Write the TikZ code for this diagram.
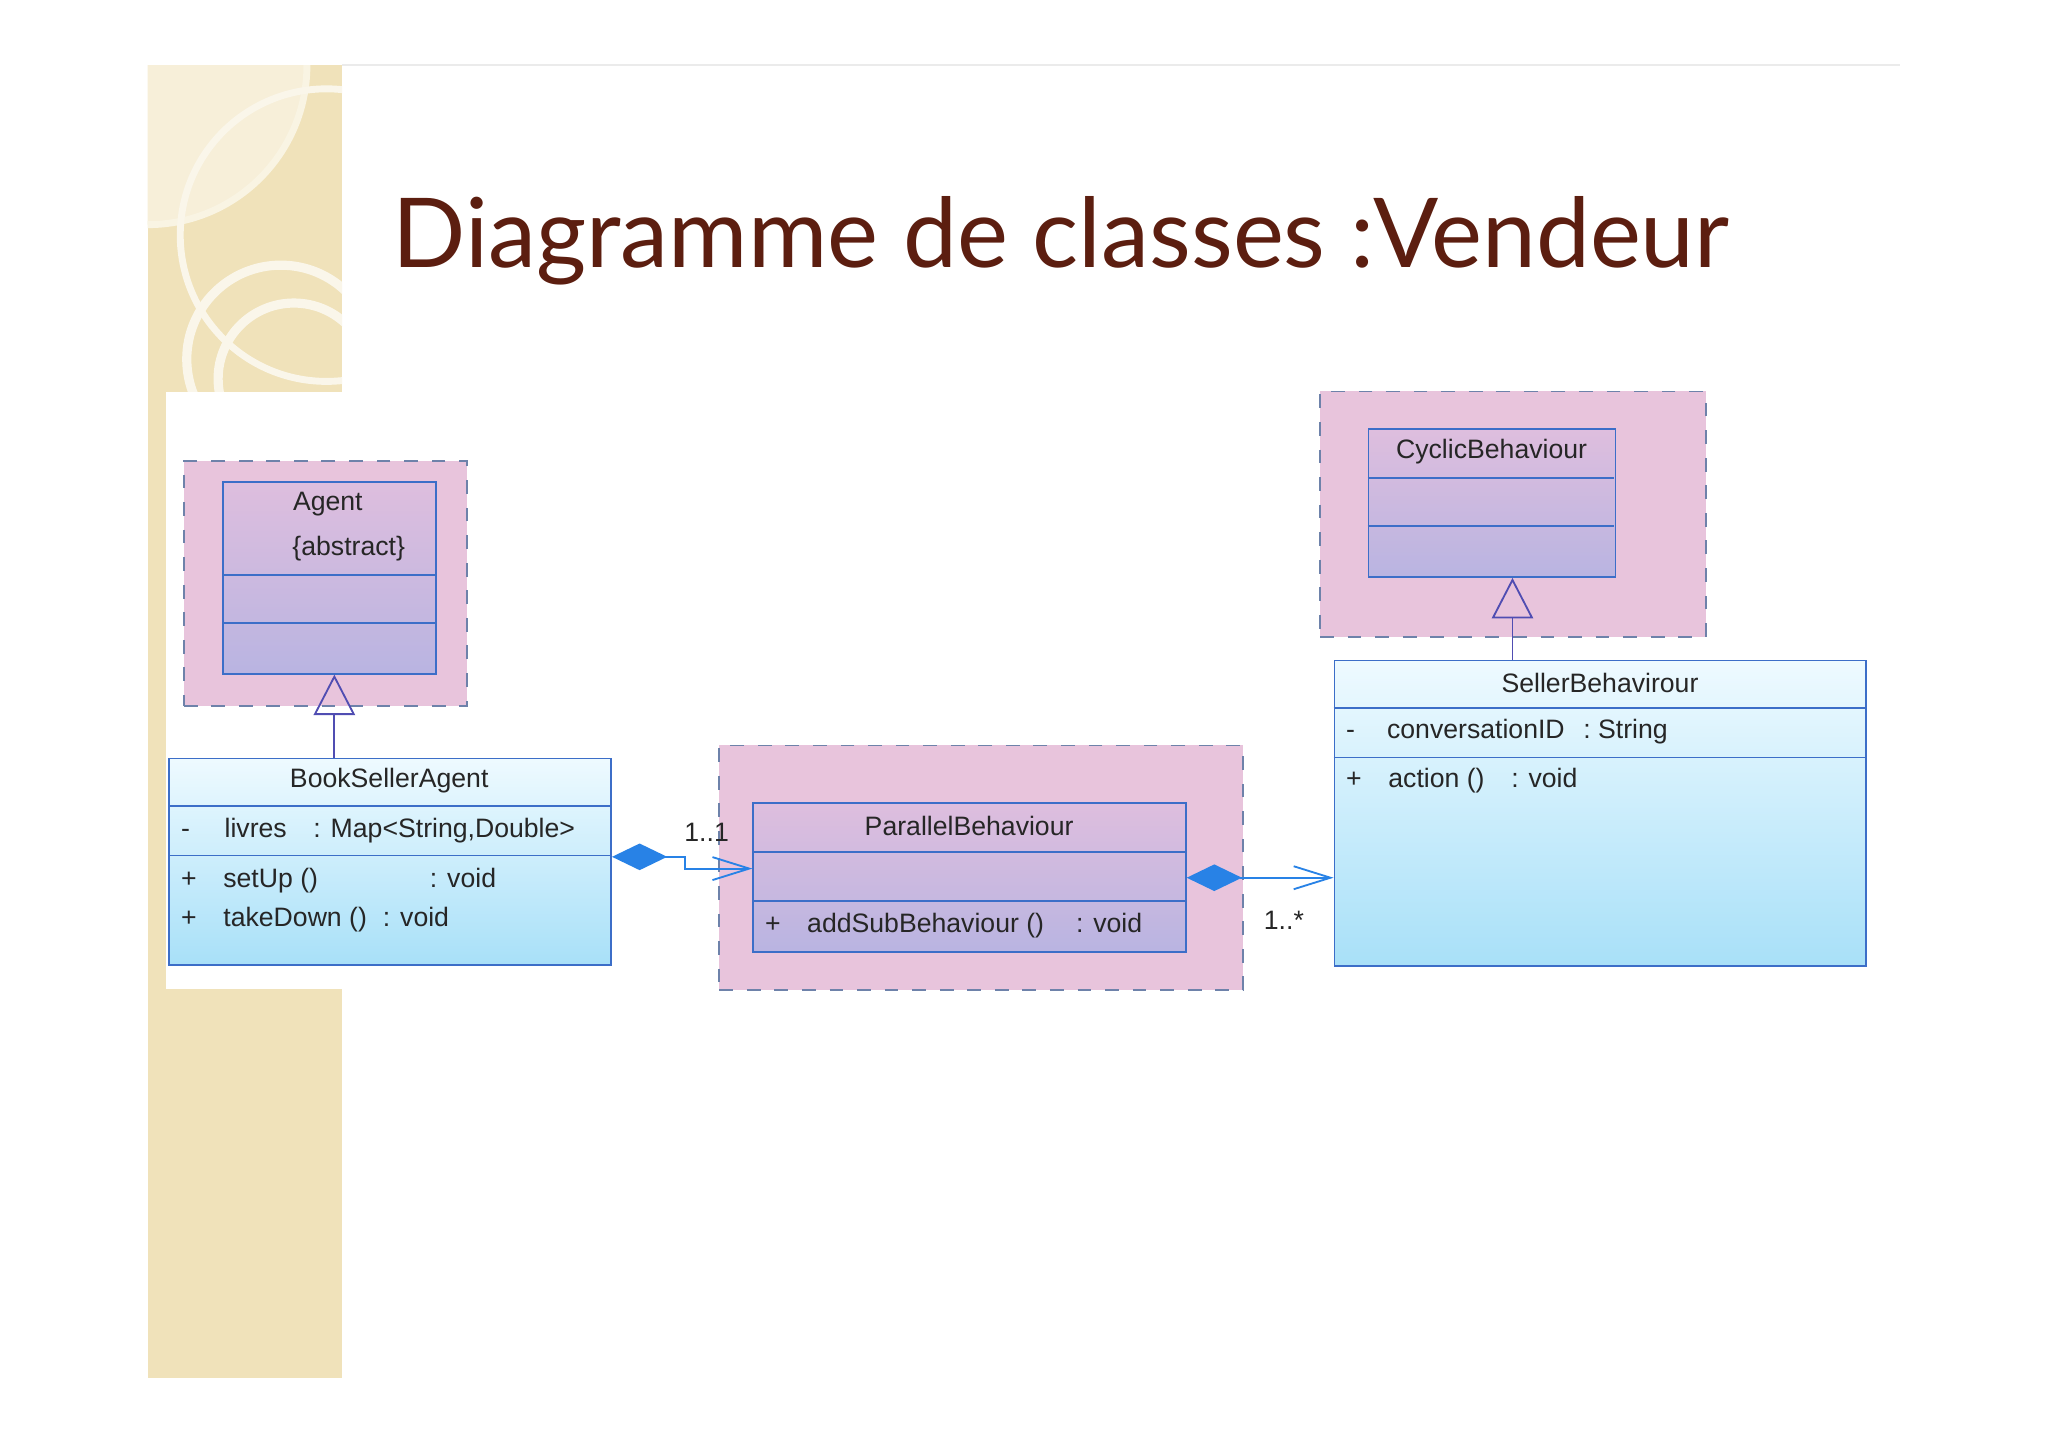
\documentclass[tikz,border=0pt]{standalone}
\usepackage{fontspec}
\setmainfont{Liberation Sans}
\newfontfamily\titlefont{Lato}
\usetikzlibrary{arrows.meta,calc}
\definecolor{titlec}{RGB}{92,30,16}
\definecolor{strip}{RGB}{240,226,186}
\definecolor{pinkc}{RGB}{232,196,220}
\definecolor{borderc}{RGB}{60,110,200}
\definecolor{ctop}{RGB}{238,250,255}
\definecolor{cbot}{RGB}{168,224,248}
\definecolor{ltop}{RGB}{222,190,222}
\definecolor{lbot}{RGB}{185,180,225}
\definecolor{dashc}{RGB}{110,130,170}
\definecolor{diac}{RGB}{40,130,230}
\tikzset{
  x=0.01cm, y=-0.01cm,
  pinkbox/.style={draw=dashc, dashed, fill=pinkc, anchor=north west, inner sep=0},
  classbox/.style={draw=borderc, top color=ctop, bottom color=cbot, anchor=north west, inner sep=0},
  lavbox/.style={draw=borderc, top color=ltop, bottom color=lbot, anchor=north west, inner sep=0},
  divider/.style={draw=borderc},
  lbl/.style={font=\fontsize{5.8}{7}\selectfont, inner sep=0, text=black!85},
  lbll/.style={lbl, anchor=west},
  gen/.style={draw=borderc!70!violet, -{Triangle[open,length=8.8pt,width=9pt]}},
  comp/.style={draw=diac, {Diamond[length=12pt,width=5.8pt,fill=diac]}-{Straight Barb[length=8pt,width=5pt]}}
}
\begin{document}
\begin{tikzpicture}
\useasboundingbox (0,0) rectangle (1568,1108);
\fill[white] (0,0) rectangle (1568,1108);
% strip
\fill[strip] (113,50) rectangle (262,1055);
\begin{scope}
\clip (113,50) rectangle (262,300);
\fill[strip!55!white] (113,50) circle (122);
\draw[white!60!strip, line width=1.5] (113,50) circle (122);
\draw[white!70!strip, line width=1.5] (250,180) circle (112);
\draw[white!70!strip, line width=2] (215,275) circle (72);
\draw[white!70!strip, line width=2] (225,290) circle (58);
\end{scope}
\draw[black!8] (262,50) -- (1455,50);
\fill[white] (127,300) rectangle (262,757);
% title
\node[anchor=base west, inner sep=0, text=titlec, font=\titlefont\fontsize{21}{24}\selectfont] (title) at (300,205) {Diagramme de classes :Vendeur};
% Agent
\node[pinkbox, minimum width=2.17cm, minimum height=1.88cm] (agp) at (140,352) {};
\node[lavbox, minimum width=1.63cm, minimum height=1.47cm] (ag) at (170,368) {};
\draw[divider] (170,440) -- (333,440) (170,477) -- (333,477);
\node[lbl] (agt) at (251,386) {Agent};
\node[lbl] (agt2) at (267,420) {\{abstract\}};
% BookSellerAgent
\node[classbox, minimum width=3.38cm, minimum height=1.58cm] (bsa) at (129,580) {};
\draw[divider] (129,617) -- (467,617) (129,655) -- (467,655);
\node[lbl] (bsat) at (298,598) {BookSellerAgent};
\node[lbll] (bsa1) at (138,636) {-\hspace{1.3em}livres\hspace{1em}: Map<String,Double>};
\node[lbll] (bsa2) at (138,674) {+\hspace{1em}setUp ()\hspace{4.2em}: void};
\node[lbll] (bsa3) at (138,704) {+\hspace{1em}takeDown ()\hspace{0.6em}: void};
% ParallelBehaviour
\node[pinkbox, minimum width=4.01cm, minimum height=1.87cm] (pbp) at (550,570) {};
\node[lavbox, minimum width=3.31cm, minimum height=1.14cm] (pb) at (576,614) {};
\draw[divider] (576,652) -- (907,652) (576,690) -- (907,690);
\node[lbl] (pbt) at (742,632) {ParallelBehaviour};
\node[lbll] (pb1) at (585,709) {+\hspace{1em}addSubBehaviour ()\hspace{1.2em}: void};
% SellerBehavirour
\node[classbox, minimum width=4.07cm, minimum height=2.34cm] (sb) at (1021,505) {};
\draw[divider] (1021,542) -- (1428,542) (1021,580) -- (1428,580);
\node[lbl] (sbt) at (1225,523) {SellerBehavirour};
\node[lbll] (sb1) at (1030,560) {-\hspace{1.2em}conversationID\hspace{0.7em}: String};
\node[lbll] (sb2) at (1030,598) {+\hspace{1em}action ()\hspace{1em}: void};
% CyclicBehaviour
\node[pinkbox, minimum width=2.95cm, minimum height=1.88cm] (cbp) at (1010,299) {};
\node[lavbox, minimum width=1.89cm, minimum height=1.13cm] (cb) at (1047,328) {};
\draw[divider] (1047,366) -- (1236,366) (1047,403) -- (1236,403);
\node[lbl] (cbt) at (1142,346) {CyclicBehaviour};
% generalizations
\draw[gen] ($(bsa.north west)+(127,0)$) -- ($(ag.south west)+(86,0)$);
\draw[gen] ($(sb.north west)+(137,0)$) -- ($(cb.south west)+(111,0)$);
% compositions
\draw[comp] ($(bsa.north east)+(0,76)$) -- ++(56,0) -- ++(0,9) -- ($(pb.north west)+(0,51)$);
\node[lbl] (m1) at (541,637) {1..1};
\draw[comp] ($(pb.north east)+(0,58)$) -- ($(sb.north west)+(0,167)$);
\node[lbl] (m2) at (983,705) {1..*};
\end{tikzpicture}
\end{document}
